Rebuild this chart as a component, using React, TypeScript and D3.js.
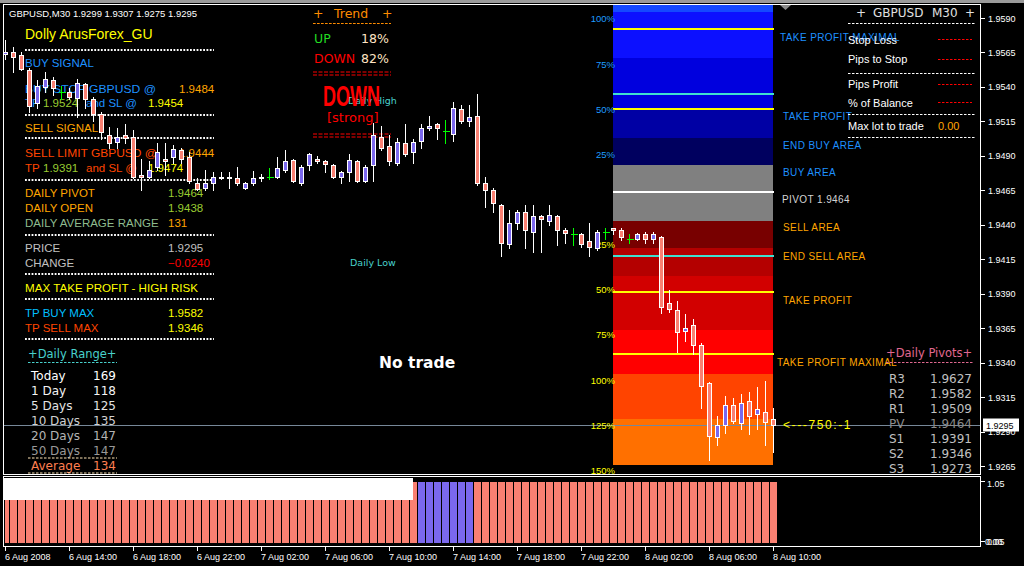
import React from "react";
import * as d3 from "d3";

// GBPUSD M30 bars, 6 Aug 2008 10:00 .. 8 Aug 2008 10:00
const opens = [
  1.9564, 1.9565, 1.9563, 1.9552, 1.9528, 1.954, 1.9545, 1.9536, 1.9536, 1.9532,
  1.9542, 1.9531, 1.952, 1.9505, 1.95, 1.9505, 1.9504, 1.9476, 1.9475, 1.9482,
  1.9488, 1.9489, 1.9494, 1.9489, 1.947, 1.9467, 1.947, 1.9475, 1.9475, 1.9474,
  1.9467, 1.947, 1.9475, 1.9475, 1.9475, 1.948, 1.9487, 1.947, 1.9483, 1.9488,
  1.9486, 1.9483, 1.9475, 1.9478, 1.9486, 1.9472, 1.9483, 1.9504, 1.9497, 1.9485,
  1.9499, 1.9493, 1.9501, 1.951, 1.9513, 1.9508, 1.9506, 1.9524, 1.9515, 1.9519,
  1.947, 1.9465, 1.9454, 1.9426, 1.9441, 1.9449, 1.9435, 1.9446, 1.9443, 1.9446,
  1.9436, 1.9433, 1.9433, 1.9428, 1.9423, 1.9435, 1.9438, 1.9436, 1.943, 1.943,
  1.9433, 1.943, 1.9431, 1.9383, 1.9378, 1.9363, 1.9367, 1.9353, 1.9325, 1.9286,
  1.9295, 1.9309, 1.9296, 1.9312, 1.9303, 1.9304, 1.9299,
];
const highs = [
  1.9574, 1.9569, 1.9565, 1.9554, 1.9545, 1.9551, 1.9547, 1.9541, 1.9539, 1.9546,
  1.9543, 1.9533, 1.9522, 1.9511, 1.951, 1.9513, 1.9509, 1.9488, 1.9486, 1.9499,
  1.9499, 1.9498, 1.9496, 1.9493, 1.9474, 1.948, 1.9478, 1.9478, 1.9478, 1.9482,
  1.9471, 1.9479, 1.9477, 1.9481, 1.9489, 1.9494, 1.9488, 1.9483, 1.9492, 1.949,
  1.9487, 1.9484, 1.9479, 1.9491, 1.9487, 1.9483, 1.9514, 1.9512, 1.9505, 1.9503,
  1.9513, 1.9502, 1.9513, 1.9519, 1.9514, 1.9516, 1.9529, 1.9527, 1.9527, 1.9535,
  1.9475, 1.9467, 1.9455, 1.9451, 1.9451, 1.9454, 1.9454, 1.9447, 1.9454, 1.9447,
  1.9438, 1.9438, 1.9434, 1.9441, 1.9436, 1.9438, 1.9438, 1.9438, 1.9433, 1.9434,
  1.9435, 1.9435, 1.9432, 1.9393, 1.9385, 1.9375, 1.9372, 1.9354, 1.9326, 1.9301,
  1.9316, 1.9314, 1.9317, 1.9319, 1.9322, 1.9327, 1.9307,
];
const lows = [
  1.956, 1.9551, 1.9552, 1.9522, 1.9525, 1.9536, 1.9534, 1.9531, 1.9531, 1.9518,
  1.9525, 1.9515, 1.9502, 1.9496, 1.9496, 1.9499, 1.9474, 1.9465, 1.9474, 1.948,
  1.9476, 1.9485, 1.9485, 1.947, 1.9465, 1.9465, 1.9465, 1.9473, 1.9467, 1.9469,
  1.9466, 1.9469, 1.9472, 1.9473, 1.9474, 1.9478, 1.9471, 1.9469, 1.948, 1.9485,
  1.9478, 1.9474, 1.947, 1.9472, 1.9471, 1.9471, 1.9472, 1.9494, 1.9483, 1.9483,
  1.949, 1.9485, 1.9496, 1.9509, 1.9502, 1.9499, 1.9501, 1.9514, 1.9512, 1.9469,
  1.9453, 1.9449, 1.9417, 1.9423, 1.9437, 1.9423, 1.942, 1.942, 1.944, 1.9425,
  1.9427, 1.9425, 1.9424, 1.9417, 1.9422, 1.943, 1.9433, 1.9429, 1.9427, 1.9429,
  1.9427, 1.9427, 1.9376, 1.9377, 1.9348, 1.9356, 1.9346, 1.9307, 1.9269, 1.928,
  1.9289, 1.9296, 1.9292, 1.9288, 1.9292, 1.928, 1.9275,
];
const closes = [
  1.9565, 1.9562, 1.9553, 1.9526, 1.9541, 1.9546, 1.9539, 1.9536, 1.9533, 1.9543,
  1.9531, 1.952, 1.9507, 1.9499, 1.9504, 1.9503, 1.9475, 1.9475, 1.948, 1.9493,
  1.9486, 1.9495, 1.9488, 1.9472, 1.9466, 1.947, 1.9475, 1.9474, 1.9474, 1.947,
  1.947, 1.9474, 1.9474, 1.9475, 1.9481, 1.9486, 1.9472, 1.9482, 1.9491, 1.9486,
  1.9484, 1.9475, 1.9478, 1.9487, 1.9472, 1.9482, 1.9505, 1.9496, 1.9486, 1.95,
  1.9491, 1.95, 1.951, 1.9512, 1.951, 1.9508, 1.9525, 1.9515, 1.9518, 1.947,
  1.9465, 1.9456, 1.9427, 1.9441, 1.9449, 1.9436, 1.9446, 1.9444, 1.9447, 1.9436,
  1.9434, 1.9433, 1.9426, 1.9424, 1.9435, 1.9435, 1.9436, 1.9431, 1.943, 1.9433,
  1.943, 1.9433, 1.938, 1.9379, 1.9362, 1.9365, 1.9353, 1.9323, 1.9287, 1.9295,
  1.9309, 1.9298, 1.9311, 1.9301, 1.9306, 1.9297, 1.9295,
];

// trend histogram of the sub-window: -1 sell bar, 1 buy bar
const trendSignal = [
  -1, -1, -1, -1, -1, -1, -1, -1, -1, -1, -1, -1, -1, -1, -1, -1, -1, -1, -1, -1,
  -1, -1, -1, -1, -1, -1, -1, -1, -1, -1, -1, -1, -1, -1, -1, -1, -1, -1, -1, -1,
  -1, -1, -1, -1, -1, -1, -1, -1, -1, -1, -1, -1, 1, 1, 1, 1, 1, 1, 1, -1,
  -1, -1, -1, -1, -1, -1, -1, -1, -1, -1, -1, -1, -1, -1, -1, -1, -1, -1, -1, -1,
  -1, -1, -1, -1, -1, -1, -1, -1, -1, -1, -1, -1, -1, -1, -1, -1, -1,
];

const priceTickLabels = [
  "1.9590", "1.9565", "1.9540", "1.9515", "1.9490", "1.9465", "1.9440",
  "1.9415", "1.9390", "1.9365", "1.9340", "1.9315", "1.9290", "1.9265",
];
const timeTickLabels = [
  "6 Aug 2008", "6 Aug 14:00", "6 Aug 18:00", "6 Aug 22:00", "7 Aug 02:00",
  "7 Aug 06:00", "7 Aug 10:00", "7 Aug 14:00", "7 Aug 18:00", "7 Aug 22:00",
  "8 Aug 02:00", "8 Aug 06:00", "8 Aug 10:00",
];
const timeTickBars = [0, 8, 16, 24, 32, 40, 48, 56, 64, 72, 80, 88, 96];

// trade levels
const symbolName = "GBPUSD";
const dailyPivot = 1.9464;
const dailyOpen = 1.9438;
const dailyAvgRange = 131;
const prevDayHigh = 1.9535;
const prevDayLow = 1.9417;
const buyStop = 1.9484;
const buyTP = 1.9524;
const buySL = 1.9454;
const sellLimit = 1.9444;
const sellTP = 1.9391;
const sellSL = 1.9474;
const tpBuyMax = 1.9582;
const tpSellMax = 1.9346;
const lastPrice = 1.9295;
const priceChange = -0.024;
const trendUpPct = 18;
const trendDownPct = 82;
const ratioText = "<---750:-1";

// zones drawn from the first bar of the day
const zoneStartBar = 76;
const rangeBase = 1.9458;
const buyPctLevels = [25, 50, 75, 100];
const sellPctLevels = [25, 50, 75, 100, 125, 150];
const buyZoneEdges = [1.9483, 1.9503, 1.9523, 1.9561, 1.9594, 1.966];
const sellZoneEdges = [1.9443, 1.9423, 1.9403, 1.9364, 1.9332, 1.9299, 1.9266];

// daily range / pivots tables
const rangeLabels = ["Today", "1 Day", "5 Days", "10 Days", "20 Days", "50 Days"];
const rangeValues = [169, 118, 125, 135, 147, 147];
const rangeAverage = 134;
const pivotLabels = ["R3", "R2", "R1", "PV", "S1", "S2", "S3"];
const pivotValues = [1.9627, 1.9582, 1.9509, 1.9464, 1.9391, 1.9346, 1.9273];

// ---------------------------------------------------------------------------
const SANS = "'Liberation Sans', Arial, sans-serif";
const VERA = "'DejaVu Sans', Verdana, sans-serif";
const NARROW = "'Liberation Sans Narrow', 'Liberation Sans', sans-serif";

const BLUE = "#1e90ff";
const ORANGE = "#ffa500";
const ORED = "#ff4500";
const YGREEN = "#9acd32";
const SILVER = "#c0c0c0";
const BULL = "#7b68ee";
const BEAR = "#fa8072";

const buyZoneColors = ["#00005f", "#0000a4", "#0000de", "#0c10ff", "#1448ff"];
const sellZoneColors = ["#780000", "#b40000", "#d20000", "#ff0000", "#ff4400", "#ff7000"];
const rangeColors = ["#ffffff", "#f4f4f4", "#e4e4e4", "#d0d0d0", "#b4b4b4", "#989898"];

type TProps = {
  x: number;
  y: number;
  c: string;
  s?: number;
  f?: string;
  w?: string | number;
  a?: "start" | "middle" | "end";
  tl?: number;
  ls?: number;
  children: React.ReactNode;
};
const T = ({ x, y, c, s = 11.5, f = SANS, w, a, tl, ls, children }: TProps) => (
  <text
    x={x}
    y={y}
    fill={c}
    fontSize={s}
    fontFamily={f}
    fontWeight={w}
    textAnchor={a}
    letterSpacing={ls}
    textLength={tl}
    lengthAdjust={tl ? "spacingAndGlyphs" : undefined}
  >
    {children}
  </text>
);

const HLine = ({
  x1, x2, y, c, dash, sw = 1,
}: { x1: number; x2: number; y: number; c: string; dash?: string; sw?: number }) => (
  <line x1={x1} x2={x2} y1={y} y2={y} stroke={c} strokeWidth={sw} strokeDasharray={dash} />
);

const Dots = ({ y }: { y: number }) => (
  <HLine x1={25} x2={214} y={y} c="#ffffff" sw={2} dash="1.8 1.5" />
);

export default function App() {
  const y = d3.scaleLinear().domain([1.9265, 1.959]).range([466, 18]);
  const x = d3.scaleLinear().domain([0, 96]).range([5.5, 773.5]);
  const sy = d3.scaleLinear().domain([0, 1.05]).range([543, 478.5]);
  const ry = (p: number) => Math.round(y(p));
  const f4 = d3.format(".4f");

  const zoneX0 = x(zoneStartBar) - 0.5;
  const zoneX1 = x(opens.length - 1) - 0.5;
  const rangeSpan = dailyAvgRange / 10000;

  const priceTickValues = priceTickLabels.map(Number);

  const bars = d3.range(opens.length);

  const zoneLines = [
    { p: tpBuyMax, c: "#ffff00" },
    { p: prevDayHigh, c: "#40e0d0" },
    { p: buyTP, c: "#ffff00" },
    { p: dailyPivot, c: "#ffffff" },
    { p: prevDayLow, c: "#40e0d0" },
    { p: sellTP, c: "#ffff00" },
    { p: tpSellMax, c: "#ffff00" },
  ];
  const zoneLabels = [
    { t: "TAKE PROFIT MAXIMAL", p: tpBuyMax, c: BLUE, dx: 780 },
    { t: "TAKE PROFIT", p: buyTP, c: BLUE, dx: 783 },
    { t: "END BUY AREA", p: buyZoneEdges[1], c: BLUE, dx: 783 },
    { t: "BUY AREA", p: buyStop, c: BLUE, dx: 783 },
    { t: `PIVOT ${f4(dailyPivot)}`, p: dailyPivot, c: "#d4d4d4", dx: 782 },
    { t: "SELL AREA", p: sellLimit, c: ORANGE, dx: 783 },
    { t: "END SELL AREA", p: sellZoneEdges[1], c: ORANGE, dx: 783 },
    { t: "TAKE PROFIT", p: sellTP, c: ORANGE, dx: 783 },
    { t: "TAKE PROFIT MAXIMAL", p: tpSellMax, c: ORANGE, dx: 777 },
  ];

  return (
    <svg
      width={1024}
      height={566}
      viewBox="0 0 1024 566"
      style={{ position: "absolute", left: 0, top: 0, display: "block", background: "#000" }}
    >
      <defs>
        <clipPath id="mainClip">
          <rect x={4} y={5} width={976} height={469} />
        </clipPath>
        <clipPath id="subClip">
          <rect x={5} y={477} width={975} height={69} />
        </clipPath>
      </defs>
      <rect x={0} y={0} width={1024} height={566} fill="#000" />
      <rect x={0} y={0} width={1024} height={3} fill="#9a9a9a" />

      {/* zone rectangles of the current day */}
      <g clipPath="url(#mainClip)" shapeRendering="crispEdges">
        {buyZoneColors.map((c, k) => (
          <rect
            key={"b" + k}
            x={zoneX0}
            y={ry(buyZoneEdges[k + 1])}
            width={zoneX1 - zoneX0}
            height={ry(buyZoneEdges[k]) - ry(buyZoneEdges[k + 1])}
            fill={c}
          />
        ))}
        <rect
          x={zoneX0}
          y={ry(buyZoneEdges[0])}
          width={zoneX1 - zoneX0}
          height={ry(sellZoneEdges[0]) - ry(buyZoneEdges[0])}
          fill="#808080"
        />
        {sellZoneColors.map((c, k) => (
          <rect
            key={"s" + k}
            x={zoneX0}
            y={ry(sellZoneEdges[k])}
            width={zoneX1 - zoneX0}
            height={ry(sellZoneEdges[k + 1]) - ry(sellZoneEdges[k])}
            fill={c}
          />
        ))}
        {zoneLines.map((l, k) => (
          <line
            key={"zl" + k}
            x1={zoneX0}
            x2={zoneX1 + 1}
            y1={ry(l.p)}
            y2={ry(l.p)}
            stroke={l.c}
            strokeWidth={2}
          />
        ))}
      </g>

      {/* bid line */}
      <line x1={4} x2={980} y1={ry(lastPrice) + 0.5} y2={ry(lastPrice) + 0.5} stroke="#778899" strokeWidth={1} shapeRendering="crispEdges" />

      {/* percentage marks of the average daily range */}
      {buyPctLevels.map((p) => (
        <T key={"bp" + p} x={615} y={y(rangeBase + (p / 100) * rangeSpan) + 3} c="#1e9cff" s={9.5} a="end">
          {p}%
        </T>
      ))}
      {sellPctLevels.map((p) => (
        <T key={"sp" + p} x={615} y={y(rangeBase - (p / 100) * rangeSpan) + 3} c="#ffff00" s={9.5} a="end">
          {p}%
        </T>
      ))}

      {zoneLabels.map((l, k) => (
        <T key={"zt" + k} x={l.dx} y={y(l.p) + 11.5} c={l.c} s={10} ls={0.4}>
          {l.t}
        </T>
      ))}
      <T x={783} y={429} c="#ffff00" s={12} ls={1.6}>
        {ratioText}
      </T>

      {/* title */}
      <T x={9} y={16.5} c="#ffffff" s={9.5}>
        {`${symbolName},M30  ${f4(opens[96])}  ${f4(highs[96])}  ${f4(lows[96])}  ${f4(closes[96])}`}
      </T>

      {/* signal panel */}
      <T x={25} y={39} c="#ffff00" s={14}>Dolly ArusForex_GU</T>
      <Dots y={50} />
      <T x={25} y={66.5} c={BLUE}>BUY SIGNAL</T>
      <T x={25} y={92.5} c={BLUE} tl={131}>{`BUY STOP ${symbolName} @`}</T>
      <T x={179} y={92.5} c={ORANGE}>{f4(buyStop)}</T>
      <T x={25} y={106.5} c={BLUE}>TP</T>
      <T x={43} y={106.5} c={YGREEN}>{f4(buyTP)}</T>
      <T x={86} y={106.5} c={BLUE}>and SL @</T>
      <T x={148} y={106.5} c="#ffff00">{f4(buySL)}</T>
      <Dots y={115} />
      <T x={25} y={131.5} c={ORANGE}>SELL SIGNAL</T>
      <Dots y={138} />
      <T x={25} y={156.5} c={ORED} tl={132}>{`SELL LIMIT ${symbolName} @`}</T>
      <T x={179} y={156.5} c={ORANGE}>{f4(sellLimit)}</T>
      <T x={25} y={171.5} c={ORED}>TP</T>
      <T x={43} y={171.5} c={YGREEN}>{f4(sellTP)}</T>
      <T x={86} y={171.5} c={ORED}>and SL @</T>
      <T x={148} y={171.5} c="#ffff00">{f4(sellSL)}</T>
      <Dots y={180} />
      <T x={25} y={196.5} c={ORANGE}>DAILY PIVOT</T>
      <T x={168} y={196.5} c={YGREEN}>{f4(dailyPivot)}</T>
      <T x={25} y={211.5} c={ORANGE}>DAILY OPEN</T>
      <T x={168} y={211.5} c={YGREEN}>{f4(dailyOpen)}</T>
      <T x={25} y={226.5} c="#8fbc8f">DAILY AVERAGE RANGE</T>
      <T x={168} y={226.5} c={ORANGE}>{dailyAvgRange}</T>
      <Dots y={235} />
      <T x={25} y={251.5} c={SILVER}>PRICE</T>
      <T x={168} y={251.5} c={SILVER}>{f4(lastPrice)}</T>
      <T x={25} y={266.5} c={SILVER}>CHANGE</T>
      <T x={168} y={266.5} c="#ff0000">{f4(priceChange)}</T>
      <Dots y={274} />
      <T x={25} y={291.5} c="#ffff00" tl={173}>MAX TAKE PROFIT - HIGH RISK</T>
      <Dots y={299} />
      <T x={25} y={316.5} c="#00bfff">TP BUY MAX</T>
      <T x={168} y={316.5} c="#ffff00">{f4(tpBuyMax)}</T>
      <T x={25} y={331.5} c={ORED}>TP SELL MAX</T>
      <T x={168} y={331.5} c="#ffff00">{f4(tpSellMax)}</T>
      <Dots y={339} />

      {/* daily range table */}
      <T x={28} y={358} c="#48d1cc" s={11.5} f={VERA}>+Daily Range+</T>
      <HLine x1={28} x2={117} y={362.5} c="#48d1cc" dash="2.5 1.5" />
      {rangeLabels.map((l, k) => (
        <g key={"dr" + k}>
          <T x={31} y={379.5 + k * 15} c={rangeColors[k]} s={12} f={VERA}>{l}</T>
          <T x={93} y={379.5 + k * 15} c={rangeColors[k]} s={12} f={VERA}>{rangeValues[k]}</T>
        </g>
      ))}
      <HLine x1={28} x2={117} y={458} c="#ffe4b5" dash="2.5 1.5" />
      <T x={31} y={469.5} c="#ff7f50" s={12} f={VERA}>Average</T>
      <T x={93} y={469.5} c="#ff7f50" s={12} f={VERA}>{rangeAverage}</T>
      <HLine x1={28} x2={117} y={473} c="#ffe4b5" dash="2.5 1.5" />

      {/* trend box */}
      <T x={313} y={18} c="#ff8c00" s={12.5} f={VERA}>+</T>
      <T x={334} y={18} c="#ff8c00" s={12.5} f={VERA}>Trend</T>
      <T x={382} y={18} c="#ff8c00" s={12.5} f={VERA}>+</T>
      <HLine x1={313} x2={391} y={23.5} c="#ff8c00" dash="2.7 1.3" />
      <T x={314} y={43} c="#22dd22" s={12.5} f={VERA}>UP</T>
      <T x={361} y={43} c="#ffe4c4" s={12.5} f={VERA}>{trendUpPct}%</T>
      <T x={314} y={63} c="#ff0000" s={12.5} f={VERA}>DOWN</T>
      <T x={361} y={63} c="#ffe4c4" s={12.5} f={VERA}>{trendDownPct}%</T>
      <HLine x1={313} x2={391} y={72} c="#ff0000" dash="4 1.5" />
      <HLine x1={313} x2={391} y={75} c="#ff0000" dash="4 1.5" />
      <T x={348} y={104} c="#48d1cc" s={9.5} f={VERA}>Daily High</T>
      <T x={323} y={106} c="#ff0000" s={29} f={NARROW} w="bold" tl={57}>DOWN</T>
      <T x={327} y={122} c="#ff0000" s={13} f={VERA}>[strong]</T>
      <HLine x1={313} x2={391} y={134} c="#ff0000" dash="4 1.5" />
      <HLine x1={313} x2={391} y={137} c="#ff0000" dash="4 1.5" />
      <T x={350} y={266} c="#48d1cc" s={9.5} f={VERA}>Daily Low</T>

      <T x={379} y={367.5} c="#ffffff" s={15.5} f={VERA} w="bold">No trade</T>

      {/* info panel */}
      <T x={856} y={16.5} c="#e0e0e0" s={12} f={VERA}>+</T>
      <T x={873} y={16.5} c="#e0e0e0" s={12} f={VERA}>{symbolName}</T>
      <T x={932} y={16.5} c="#e0e0e0" s={12} f={VERA}>M30</T>
      <T x={965} y={16.5} c="#e0e0e0" s={12} f={VERA}>+</T>
      <HLine x1={848} x2={975} y={23.5} c="#ffffff" dash="2.5 1.5" />
      <T x={848} y={44} c="#ffffff" s={11}>Stop Loss</T>
      <HLine x1={938} x2={972} y={39.5} c="#ff0000" dash="2.5 1.5" />
      <T x={848} y={63} c="#ffffff" s={11}>Pips to Stop</T>
      <HLine x1={938} x2={972} y={59.5} c="#ff0000" dash="2.5 1.5" />
      <HLine x1={848} x2={975} y={73.5} c="#ffffff" dash="2.5 1.5" />
      <T x={848} y={88} c="#ffffff" s={11}>Pips Profit</T>
      <HLine x1={938} x2={972} y={84.5} c="#ff0000" dash="2.5 1.5" />
      <T x={848} y={106.5} c="#ffffff" s={11}>% of Balance</T>
      <HLine x1={938} x2={972} y={102.5} c="#ff0000" dash="2.5 1.5" />
      <HLine x1={848} x2={975} y={114.5} c="#ffffff" dash="2.5 1.5" />
      <T x={848} y={130} c="#ffffff" s={11}>Max lot to trade</T>
      <T x={938} y={130} c={ORANGE} s={11}>0.00</T>
      <HLine x1={848} x2={975} y={137.5} c="#ffffff" dash="2.5 1.5" />

      {/* daily pivots */}
      <T x={886} y={357} c="#e06890" s={11.5} f={VERA}>+Daily Pivots+</T>
      <HLine x1={886} x2={974} y={362.5} c="#e06890" dash="2.5 1.5" />
      {pivotLabels.map((l, k) => (
        <g key={"pv" + k}>
          <T x={889} y={382.5 + k * 15} c={l === "PV" ? "#8c8c8c" : SILVER} s={12} f={VERA}>{l}</T>
          <T x={930} y={382.5 + k * 15} c={l === "PV" ? "#8c8c8c" : SILVER} s={12} f={VERA}>{f4(pivotValues[k])}</T>
        </g>
      ))}

      {/* candles */}
      <g clipPath="url(#mainClip)" shapeRendering="crispEdges">
        {bars.map((i) => {
          const cx = x(i);
          const o = opens[i];
          const c = closes[i];
          const yh = ry(highs[i]);
          const yl = ry(lows[i]);
          if (o === c) {
            const yo = ry(o) + 0.5;
            return (
              <g key={"c" + i} stroke="#00ff00">
                <line x1={cx} x2={cx} y1={yh} y2={yl + 1} />
                <line x1={cx - 3} x2={cx + 4} y1={yo} y2={yo} />
              </g>
            );
          }
          const top = ry(Math.max(o, c)) + 0.5;
          const bot = ry(Math.min(o, c)) + 0.5;
          return (
            <g key={"c" + i}>
              <line x1={cx} x2={cx} y1={yh} y2={yl + 1} stroke="#ffffff" />
              <rect
                x={cx - 2}
                y={top}
                width={4}
                height={Math.max(bot - top, 1)}
                fill={c > o ? BULL : BEAR}
                stroke="#ffffff"
              />
            </g>
          );
        })}
      </g>

      {/* chart-shift marker */}
      <polygon points="780,5 791,5 785.5,10" fill="#8a8a8a" />

      {/* frames */}
      <g fill="none" stroke="#ffffff" shapeRendering="crispEdges">
        <rect x={3.5} y={4.5} width={977} height={470} />
        <rect x={3.5} y={476.5} width={977} height={70} />
      </g>

      {/* price axis */}
      {priceTickValues.map((p, k) => (
        <g key={"pt" + k}>
          <line x1={981} x2={985} y1={ry(p) + 0.5} y2={ry(p) + 0.5} stroke="#ffffff" shapeRendering="crispEdges" />
          <T x={988} y={y(p) + 3.5} c="#ffffff" s={9}>{priceTickLabels[k]}</T>
        </g>
      ))}
      <rect x={983} y={418.5} width={36} height={13} fill="#ffffff" />
      <T x={986} y={428.5} c="#000000" s={9}>{f4(lastPrice)}</T>

      {/* sub-window histogram */}
      <g clipPath="url(#subClip)" shapeRendering="crispEdges">
        {bars.map((i) => (
          <rect
            key={"h" + i}
            x={x(i) - 3.5}
            y={sy(1)}
            width={7}
            height={sy(0) - sy(1)}
            fill={trendSignal[i] > 0 ? BULL : BEAR}
          />
        ))}
      </g>
      <rect x={3} y={478} width={410} height={22} fill="#ffffff" />
      <line x1={981} x2={985} y1={481.5} y2={481.5} stroke="#ffffff" />
      <line x1={981} x2={985} y1={541.5} y2={541.5} stroke="#ffffff" />
      <T x={987} y={487} c="#ffffff" s={9}>1.05</T>
      <T x={985} y={545} c="#ffffff" s={9}>0.00</T>
      <T x={987} y={545} c="#ffffff" s={9}>0.05</T>

      {/* time axis */}
      {timeTickBars.map((b, k) => (
        <g key={"tt" + k}>
          <line x1={x(b)} x2={x(b)} y1={547} y2={551} stroke="#ffffff" shapeRendering="crispEdges" />
          <T x={x(b) - 0.5} y={560} c="#ffffff" s={9}>{timeTickLabels[k]}</T>
        </g>
      ))}
    </svg>
  );
}
